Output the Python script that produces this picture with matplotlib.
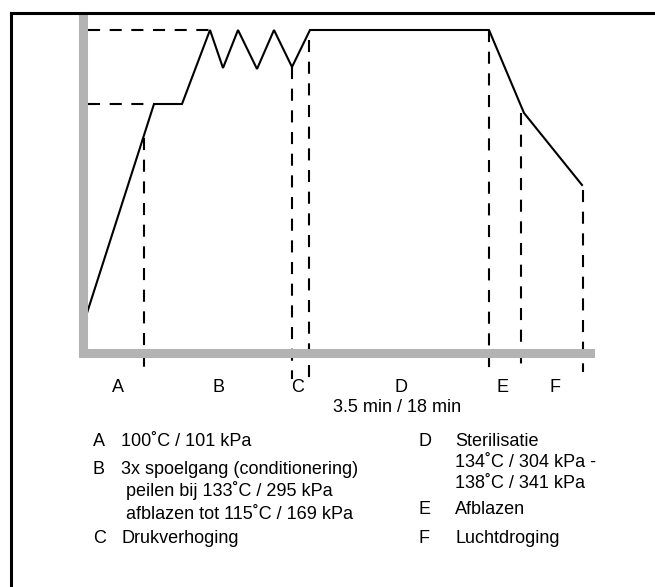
import numpy as np
import matplotlib
matplotlib.use("Agg")
import matplotlib.pyplot as plt
from matplotlib.lines import Line2D

plt.rcParams['font.family'] = ['Liberation Sans', 'DejaVu Sans']

# profile of the cycle (arbitrary time units / arbitrary pressure units)
v_time = [4, 71, 99, 127, 140, 155, 174, 191, 209, 227, 406, 441, 499]
v_press = [41, 250, 250, 324, 286, 324, 285, 324, 287, 324, 324, 241, 169]

# horizontal reference levels (level, end time)
h_levels = [324, 250]
h_ends = [127, 71]

# phase boundaries (time, top, bottom below the axis)
b_time = [61, 209, 226, 406, 438, 500]
b_top = [215, 286, 313, 323, 240, 163]
b_bottom = [-18, -26, -26, -20, -19, -19]

phase_names = ["A", "B", "C", "D", "E", "F"]
phase_pos = [35, 135, 215, 318, 420, 472]
duration_label = "3.5 min / 18 min"

# legend texts: (letter, lines)
left_letters = ["A", "B", "C"]
left_lines = [["100˚C / 101 kPa"],
              ["3x spoelgang (conditionering)",
               " peilen bij 133˚C / 295 kPa",
               " afblazen tot 115˚C / 169 kPa"],
              ["Drukverhoging"]]
right_letters = ["D", "E", "F"]
right_lines = [["Sterilisatie", "134˚C / 304 kPa -", "138˚C / 341 kPa"],
               ["Afblazen"],
               ["Luchtdroging"]]

W, H = 655, 587
fig = plt.figure(figsize=(W / 100, H / 100), dpi=100)

# outer frame (only top and left are visible)
fig.add_artist(Line2D([11 / W, 1], [1 - 13 / H, 1 - 13 / H], color="black", lw=2.2,
                      transform=fig.transFigure, zorder=10))
fig.add_artist(Line2D([11 / W, 11 / W], [0, 1 - 13 / H], color="black", lw=2.2,
                      transform=fig.transFigure, zorder=10))

ax = fig.add_axes([83 / W, 1 - 353 / H, (590 - 83) / W, (353 - 14) / H])
ax.set_xlim(0, 507)
ax.set_ylim(0, 339)
for s in ["top", "right"]:
    ax.spines[s].set_visible(False)
for s in ["left", "bottom"]:
    ax.spines[s].set_color("#b3b3b3")
    ax.spines[s].set_linewidth(6.5)
ax.spines["bottom"].set_capstyle("projecting")
ax.spines["left"].set_capstyle("butt")
ax.set_xticks([])
ax.set_yticks([])
ax.patch.set_alpha(0)

dash = (5.8, 4.6)
for lvl, end in zip(h_levels, h_ends):
    ax.plot([5, end], [lvl - 1, lvl - 1], color="black", lw=1.5, dashes=dash)
for t, top, bot in zip(b_time, b_top, b_bottom):
    ax.plot([t, t], [top, bot], color="black", lw=1.5, dashes=dash, clip_on=False)

ax.plot(v_time, [p - 1 for p in v_press], color="black", lw=1.5, clip_on=False,
        solid_joinstyle="miter")

for name, pos in zip(phase_names, phase_pos):
    ax.text(pos, -35, name, ha="center", va="center", fontsize=13)
ax.text(314, -55, duration_label, ha="center", va="center", fontsize=13)


def legend_block(letters, lines, x_letter, x_text, baselines):
    i = 0
    for letter, block in zip(letters, lines):
        fig.text(x_letter / W, 1 - baselines[i] / H, letter, fontsize=13, va="baseline")
        for line in block:
            fig.text(x_text / W, 1 - baselines[i] / H, line, fontsize=13, va="baseline")
            i += 1


legend_block(left_letters, left_lines, 93, 121, [446, 474, 496, 519, 543])
legend_block(right_letters, right_lines, 418, 455, [446, 467, 488, 514, 543])

fig.savefig("out.png", dpi=100)
